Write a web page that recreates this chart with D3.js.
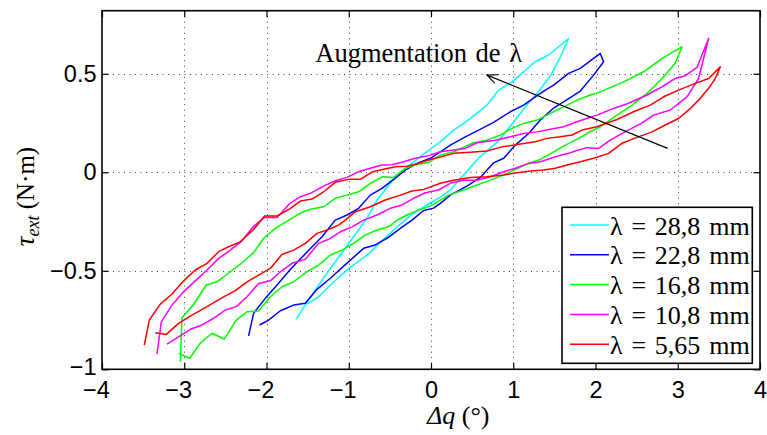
<!DOCTYPE html>
<html>
<head>
<meta charset="utf-8">
<script src="https://cdn.jsdelivr.net/npm/d3@7/dist/d3.min.js"></script>
<style>
  html, body { margin: 0; padding: 0; background: #fff; }
  svg { display: block; }
</style>
</head>
<body>
<svg id="chart" width="767" height="435"></svg>
<script>
// ---------------- DATA ----------------
const xTicks = [-4, -3, -2, -1, 0, 1, 2, 3, 4];
const yTicks = [-1, -0.5, 0, 0.5];
const xTickLabels = ["\u22124", "\u22123", "\u22122", "\u22121", "0", "1", "2", "3", "4"];
const yTickLabels = ["\u22121", "\u22120.5", "0", "0.5"];

const seriesNames = ["\u03bb = 28,8 mm", "\u03bb = 22,8 mm", "\u03bb = 16,8 mm", "\u03bb = 10,8 mm", "\u03bb = 5,65 mm"];
const seriesColors = ["#00ffff", "#0000ff", "#00ff00", "#ff00ff", "#ff0000"];

// λ = 28,8 mm (upper branch to tip, then lower branch back)
const cyanX = [-1.638, -1.516, -1.386, -1.245, -1.103, -0.941, -0.778, -0.657, -0.495, -0.312, -0.130, 0.113, 0.275, 0.429, 0.681, 0.822, 0.985, 1.126, 1.268, 1.430, 1.673,
  1.572, 1.450, 1.292, 1.167, 1.004, 0.818, 0.599, 0.417, 0.235, 0.113, -0.009, -0.212, -0.413, -0.596, -0.778, -1.002, -1.184, -1.367, -1.510];
const cyanY = [-0.745, -0.665, -0.584, -0.501, -0.420, -0.327, -0.234, -0.141, -0.056, 0.020, 0.079, 0.155, 0.214, 0.257, 0.341, 0.417, 0.459, 0.510, 0.561, 0.595, 0.679,
  0.585, 0.488, 0.402, 0.341, 0.255, 0.158, 0.080, -0.004, -0.090, -0.126, -0.156, -0.208, -0.277, -0.348, -0.420, -0.489, -0.557, -0.632, -0.669];

// λ = 22,8 mm
const blueX = [-2.218, -2.157, -2.015, -1.872, -1.711, -1.508, -1.325, -1.164, -1.021, -0.880, -0.738, -0.596, -0.455, -0.312, -0.170, -0.009, 0.113, 0.235, 0.417, 0.579, 0.761, 0.964, 1.126, 1.268, 1.390, 1.491, 1.673, 1.815, 2.058,
  2.099, 1.977, 1.815, 1.645, 1.491, 1.329, 1.187, 1.025, 0.883, 0.761, 0.599, 0.457, 0.235, 0.113, 0.032, -0.090, -0.231, -0.373, -0.535, -0.677, -0.819, -0.981, -1.224, -1.386, -1.528, -1.671, -1.832, -1.974, -2.084];
const blueY = [-0.830, -0.716, -0.640, -0.572, -0.493, -0.405, -0.327, -0.243, -0.217, -0.183, -0.116, -0.082, -0.036, 0.011, 0.045, 0.071, 0.104, 0.138, 0.180, 0.214, 0.253, 0.307, 0.341, 0.383, 0.417, 0.442, 0.502, 0.527, 0.603,
  0.561, 0.493, 0.412, 0.366, 0.326, 0.265, 0.197, 0.138, 0.071, 0.048, -0.026, -0.065, -0.116, -0.158, -0.182, -0.194, -0.243, -0.285, -0.335, -0.369, -0.386, -0.446, -0.538, -0.594, -0.665, -0.674, -0.703, -0.750, -0.775];

// λ = 16,8 mm
const greenX = [-3.048, -3.027, -2.886, -2.732, -2.602, -2.440, -2.306, -2.157, -2.035, -1.893, -1.747, -1.589, -1.467, -1.306, -1.164, -1.021, -0.880, -0.738, -0.596, -0.455, -0.312, -0.170, -0.029, 0.113, 0.275, 0.518, 0.681, 0.843, 0.985, 1.126, 1.289, 1.450, 1.612, 1.775, 1.937, 2.058, 2.342, 2.585, 2.809, 3.052,
  2.970, 2.809, 2.626, 2.444, 2.261, 2.058, 1.937, 1.795, 1.633, 1.491, 1.329, 1.167, 0.924, 0.721, 0.559, 0.396, 0.214, 0.113, -0.009, -0.151, -0.292, -0.413, -0.516, -0.657, -0.799, -0.941, -1.082, -1.224, -1.367, -1.508, -1.671, -1.812, -1.954, -2.096, -2.237, -2.367, -2.513, -2.663, -2.805, -2.935, -3.069];
const greenY = [-0.962, -0.738, -0.670, -0.572, -0.556, -0.505, -0.462, -0.408, -0.335, -0.285, -0.248, -0.207, -0.188, -0.175, -0.132, -0.116, -0.099, -0.056, -0.023, -0.026, 0.020, 0.040, 0.050, 0.087, 0.104, 0.150, 0.163, 0.189, 0.223, 0.248, 0.265, 0.299, 0.332, 0.366, 0.392, 0.408, 0.459, 0.510, 0.578, 0.637,
  0.553, 0.476, 0.400, 0.341, 0.290, 0.231, 0.206, 0.172, 0.138, 0.104, 0.065, 0.042, -0.006, -0.040, -0.065, -0.090, -0.116, -0.141, -0.172, -0.192, -0.217, -0.243, -0.277, -0.293, -0.319, -0.361, -0.395, -0.420, -0.471, -0.505, -0.556, -0.581, -0.632, -0.704, -0.708, -0.750, -0.846, -0.817, -0.868, -0.944, -0.919];

// λ = 10,8 mm
const magentaX = [-3.331, -3.279, -3.149, -3.008, -2.866, -2.723, -2.582, -2.440, -2.298, -2.164, -2.023, -1.872, -1.723, -1.589, -1.467, -1.306, -1.164, -1.021, -0.880, -0.738, -0.596, -0.474, -0.333, -0.191, -0.049, 0.113, 0.275, 0.417, 0.559, 0.782, 0.964, 1.126, 1.289, 1.450, 1.612, 1.775, 1.937, 2.018, 2.220, 2.402, 2.626, 2.809, 2.970, 3.092, 3.234, 3.375,
  3.253, 3.112, 2.909, 2.706, 2.557, 2.362, 2.180, 2.038, 1.897, 1.791, 1.673, 1.511, 1.329, 1.187, 1.025, 0.883, 0.721, 0.559, 0.396, 0.235, 0.089, -0.069, -0.212, -0.353, -0.495, -0.657, -0.819, -0.960, -1.103, -1.245, -1.367, -1.528, -1.690, -1.832, -1.954, -2.096, -2.237, -2.367, -2.501, -2.643, -2.784, -2.926, -3.069, -3.210];
const magentaY = [-0.922, -0.759, -0.674, -0.606, -0.551, -0.496, -0.437, -0.395, -0.348, -0.277, -0.229, -0.229, -0.161, -0.124, -0.107, -0.070, -0.043, -0.026, 0.003, 0.020, 0.037, 0.038, 0.053, 0.071, 0.082, 0.104, 0.113, 0.121, 0.150, 0.163, 0.180, 0.197, 0.205, 0.218, 0.231, 0.256, 0.279, 0.290, 0.324, 0.350, 0.392, 0.434, 0.476, 0.490, 0.532, 0.679,
  0.476, 0.383, 0.316, 0.290, 0.248, 0.206, 0.163, 0.121, 0.125, 0.113, 0.096, 0.079, 0.053, 0.045, 0.020, 0.003, -0.023, -0.040, -0.040, -0.056, -0.090, -0.104, -0.132, -0.166, -0.183, -0.217, -0.243, -0.277, -0.302, -0.340, -0.361, -0.442, -0.462, -0.505, -0.551, -0.564, -0.632, -0.682, -0.699, -0.741, -0.775, -0.797, -0.835, -0.872];

// λ = 5,65 mm
const redX = [-3.486, -3.425, -3.291, -3.149, -3.008, -2.866, -2.723, -2.582, -2.461, -2.319, -2.157, -2.023, -1.872, -1.723, -1.589, -1.447, -1.306, -1.164, -1.002, -0.860, -0.717, -0.576, -0.434, -0.292, -0.151, -0.009, 0.113, 0.275, 0.478, 0.681, 0.863, 1.086, 1.268, 1.410, 1.572, 1.714, 1.836, 2.018, 2.261, 2.463, 2.666, 2.828, 3.010, 3.213, 3.375, 3.517,
  3.457, 3.375, 3.253, 3.153, 3.010, 2.849, 2.687, 2.505, 2.322, 2.159, 1.998, 1.815, 1.653, 1.511, 1.369, 1.207, 1.046, 0.883, 0.681, 0.478, 0.275, 0.113, -0.090, -0.231, -0.373, -0.556, -0.738, -0.920, -1.042, -1.123, -1.264, -1.386, -1.528, -1.671, -1.812, -1.954, -2.096, -2.237, -2.379, -2.522, -2.723, -2.906, -3.069, -3.218, -3.352];
const redY = [-0.877, -0.750, -0.669, -0.618, -0.551, -0.496, -0.462, -0.403, -0.378, -0.353, -0.290, -0.222, -0.222, -0.187, -0.146, -0.136, -0.099, -0.051, -0.036, -0.036, 0.001, 0.015, 0.028, 0.031, 0.045, 0.065, 0.077, 0.096, 0.102, 0.108, 0.129, 0.143, 0.155, 0.172, 0.180, 0.189, 0.214, 0.231, 0.268, 0.307, 0.341, 0.383, 0.417, 0.451, 0.476, 0.535,
  0.476, 0.426, 0.366, 0.324, 0.273, 0.240, 0.205, 0.177, 0.147, 0.096, 0.074, 0.053, 0.037, 0.020, 0.011, 0.006, -0.003, -0.014, -0.023, -0.026, -0.040, -0.056, -0.087, -0.095, -0.116, -0.141, -0.175, -0.200, -0.243, -0.268, -0.293, -0.310, -0.361, -0.395, -0.417, -0.488, -0.522, -0.556, -0.601, -0.632, -0.682, -0.725, -0.767, -0.823, -0.814];

// annotation (data coordinates)
const arrowTail = [2.877, 0.121];
const arrowHead = [0.681, 0.493];
const annotationText = "Augmentation de \u03bb";
const annotationPos = [-1.407, 0.559];

// ---------------- CHART ----------------
const W = 767, H = 435;
const L = 102, R = 760, T = 10.7, B = 369.3;
const x = d3.scaleLinear().domain([-4, 4]).range([L, R]);
const y = d3.scaleLinear().domain([-1, 0.82]).range([B, T]);

const svg = d3.select("#chart");
svg.append("rect").attr("width", W).attr("height", H).attr("fill", "#fff");

// grid
const grid = svg.append("g").attr("stroke", "#444").attr("stroke-width", 1).attr("stroke-dasharray", "1,4.5");
grid.selectAll("line.gx").data(xTicks.filter(d => d > -4 && d < 4)).join("line")
  .attr("x1", d => Math.round(x(d)) + 0.5).attr("x2", d => Math.round(x(d)) + 0.5)
  .attr("y1", T).attr("y2", B);
grid.selectAll("line.gy").data(yTicks.filter(d => d > -1)).join("line")
  .attr("y1", d => Math.round(y(d)) + 0.5).attr("y2", d => Math.round(y(d)) + 0.5)
  .attr("x1", L).attr("x2", R);

// series
const allSeries = [
  { xs: cyanX, ys: cyanY },
  { xs: blueX, ys: blueY },
  { xs: greenX, ys: greenY },
  { xs: magentaX, ys: magentaY },
  { xs: redX, ys: redY }
];
const line = d3.line().x(d => x(d[0])).y(d => y(d[1]));
allSeries.forEach((s, i) => {
  const pts = s.xs.map((v, k) => [v, s.ys[k]]);
  svg.append("path").datum(pts)
    .attr("d", line)
    .attr("fill", "none")
    .attr("stroke", seriesColors[i])
    .attr("stroke-width", 1.5)
    .attr("stroke-linejoin", "round");
});

// arrow annotation
const ax1 = x(arrowTail[0]), ay1 = y(arrowTail[1]);
const ax2 = x(arrowHead[0]), ay2 = y(arrowHead[1]);
svg.append("line").attr("x1", ax1).attr("y1", ay1).attr("x2", ax2).attr("y2", ay2)
  .attr("stroke", "#000").attr("stroke-width", 1.2);
const ang = Math.atan2(ay1 - ay2, ax1 - ax2);
const hl = 11, ha = 0.42;
svg.append("path")
  .attr("d", `M${ax2 + hl * Math.cos(ang - ha)},${ay2 + hl * Math.sin(ang - ha)} L${ax2},${ay2} L${ax2 + hl * Math.cos(ang + ha)},${ay2 + hl * Math.sin(ang + ha)}`)
  .attr("fill", "none").attr("stroke", "#000").attr("stroke-width", 1.2);
svg.append("text")
  .attr("x", x(annotationPos[0])).attr("y", y(annotationPos[1]))
  .attr("font-family", "'Liberation Serif', 'Times New Roman', serif")
  .attr("font-size", 26.5).attr("word-spacing", 2).attr("fill", "#000")
  .text(annotationText);

// axes
const tickFont = "'Liberation Sans', Arial, Helvetica, sans-serif";
const xAxis = svg.append("g").attr("transform", `translate(0,${B})`)
  .call(d3.axisBottom(x).tickValues(xTicks).tickSizeInner(-6.5).tickSizeOuter(0).tickPadding(12.5)
    .tickFormat((d, i) => xTickLabels[i]));
xAxis.selectAll("text").attr("dx", d => d < 0 ? -6 : 0);
const yAxis = svg.append("g").attr("transform", `translate(${L},0)`)
  .call(d3.axisLeft(y).tickValues(yTicks).tickSizeInner(-6.5).tickSizeOuter(0).tickPadding(5.5)
    .tickFormat((d, i) => yTickLabels[i]));
yAxis.selectAll("text").attr("dy", d => d === -1 ? "0.22em" : "0.32em");
const xTop = svg.append("g").attr("transform", `translate(0,${T})`)
  .call(d3.axisTop(x).tickValues(xTicks).tickSizeInner(-6.5).tickSizeOuter(0).tickFormat(""));
const yRight = svg.append("g").attr("transform", `translate(${R},0)`)
  .call(d3.axisRight(y).tickValues(yTicks).tickSizeInner(-6.5).tickSizeOuter(0).tickFormat(""));
[xAxis, yAxis, xTop, yRight].forEach(g => {
  g.select(".domain").remove();
  g.selectAll("line").attr("stroke", "#000").attr("stroke-width", 1.2);
  g.selectAll("text").attr("font-family", tickFont).attr("font-size", 23.5).attr("fill", "#000");
});
svg.append("rect").attr("x", L).attr("y", T).attr("width", R - L).attr("height", B - T)
  .attr("fill", "none").attr("stroke", "#000").attr("stroke-width", 1.6);

// axis labels
const serif = "'Liberation Serif', 'Times New Roman', serif";
const xl = svg.append("text").attr("x", 427).attr("y", 424)
  .attr("font-family", serif).attr("font-size", 26).attr("fill", "#000");
xl.append("tspan").attr("font-style", "italic").text("\u0394q");
xl.append("tspan").text(" (\u00b0)");

const yl = svg.append("text").attr("transform", "translate(34,196.5) rotate(-90)")
  .attr("text-anchor", "middle")
  .attr("font-family", serif).attr("font-size", 25).attr("fill", "#000");
yl.append("tspan").attr("font-style", "italic").attr("font-size", 27).text("\u03c4");
yl.append("tspan").attr("font-style", "italic").attr("font-size", 18).attr("dy", 5).text("ext");
yl.append("tspan").attr("dy", -5).text(" (N\u00b7m)");

// legend
const lg = svg.append("g");
lg.append("rect").attr("x", 562).attr("y", 207.3).attr("width", 190.3).attr("height", 156)
  .attr("fill", "#fff").attr("stroke", "#000").attr("stroke-width", 1.6);
seriesNames.forEach((name, i) => {
  const ly = 225 + i * 29.8;
  lg.append("line").attr("x1", 570).attr("x2", 609).attr("y1", ly).attr("y2", ly)
    .attr("stroke", seriesColors[i]).attr("stroke-width", 1.5);
  lg.append("text").attr("x", 610).attr("y", ly + 9.5)
    .attr("font-family", serif).attr("font-size", 26).attr("word-spacing", 2.3).attr("fill", "#000")
    .text(name);
});
</script>
</body>
</html>
